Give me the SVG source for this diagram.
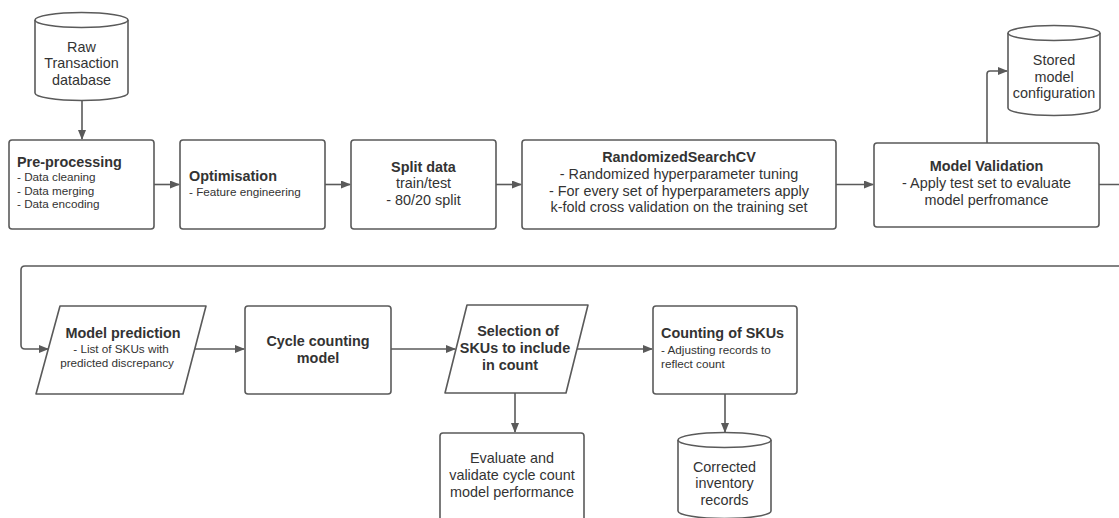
<svg xmlns="http://www.w3.org/2000/svg" width="1119" height="518" viewBox="0 0 1119 518">
<style>
.shape{fill:#fff;stroke:#5a5a5a;stroke-width:1.6;stroke-linejoin:round}
.con{fill:none;stroke:#5a5a5a;stroke-width:1.6;stroke-linejoin:round}
text{font-family:"Liberation Sans",Arial,sans-serif;fill:#333333}
.b{font-weight:bold;font-size:14.4px}
.r{font-size:14.4px}
.s{font-size:11.7px}
.m{text-anchor:middle}
</style>
<defs>
<marker id="ah" markerWidth="10" markerHeight="8" refX="9" refY="4" orient="auto" markerUnits="userSpaceOnUse">
<path d="M0,0 L10,4 L0,8 Z" fill="#5a5a5a"/>
</marker>
</defs>
<rect width="1119" height="518" fill="#fff"/>

<g id="connectors">
<path class="con" d="M82,100 V139" marker-end="url(#ah)"/>
<path class="con" d="M154,184.5 H179" marker-end="url(#ah)"/>
<path class="con" d="M325,184.5 H350" marker-end="url(#ah)"/>
<path class="con" d="M496,184.5 H521" marker-end="url(#ah)"/>
<path class="con" d="M836,184.5 H873" marker-end="url(#ah)"/>
<path class="con" d="M987,143 V74 Q987,71 990,71 H1007" marker-end="url(#ah)"/>
<path class="con" d="M1099,184.5 H1130 V266 H25 Q21,266 21,270 V345 Q21,349 25,349 H48" marker-end="url(#ah)"/>
<path class="con" d="M194,349 H244" marker-end="url(#ah)"/>
<path class="con" d="M391,349 H455" marker-end="url(#ah)"/>
<path class="con" d="M577,349 H652" marker-end="url(#ah)"/>
<path class="con" d="M515,393 V432" marker-end="url(#ah)"/>
<path class="con" d="M725,394 V432" marker-end="url(#ah)"/>
</g>

<g id="raw-db">
<path class="shape" d="M35,20 A46.5,7.5 0 0 1 128,20 V93 A46.5,7.5 0 0 1 35,93 Z"/>
<path class="con" d="M35,20 A46.5,7.5 0 0 0 128,20"/>
<text class="r m" x="81.5" y="52">Raw</text>
<text class="r m" x="81.5" y="68">Transaction</text>
<text class="r m" x="81.5" y="85">database</text>
</g>

<g id="preprocessing">
<rect class="shape" x="9" y="140" width="145" height="89" rx="3"/>
<text class="b" x="17" y="167">Pre-processing</text>
<text class="s" x="17" y="181">- Data cleaning</text>
<text class="s" x="17" y="195">- Data merging</text>
<text class="s" x="17" y="208">- Data encoding</text>
</g>

<g id="optimisation">
<rect class="shape" x="180" y="140" width="145" height="89" rx="3"/>
<text class="b" x="189" y="181">Optimisation</text>
<text class="s" x="189" y="196">- Feature engineering</text>
</g>

<g id="split">
<rect class="shape" x="351" y="140" width="145" height="89" rx="3"/>
<text class="b m" x="423.5" y="172">Split data</text>
<text class="r m" x="423.5" y="188">train/test</text>
<text class="r m" x="423.5" y="205">- 80/20 split</text>
</g>

<g id="rscv">
<rect class="shape" x="522" y="140" width="314" height="89" rx="3"/>
<text class="b m" x="679" y="162">RandomizedSearchCV</text>
<text class="r m" x="679" y="179">- Randomized hyperparameter tuning</text>
<text class="r m" x="679" y="196">- For every set of hyperparameters apply</text>
<text class="r m" x="679" y="212">k-fold cross validation on the training set</text>
</g>

<g id="validation">
<rect class="shape" x="874" y="143" width="225" height="84" rx="3"/>
<text class="b m" x="986.5" y="171">Model Validation</text>
<text class="r m" x="986.5" y="188">- Apply test set to evaluate</text>
<text class="r m" x="986.5" y="205">model perfromance</text>
</g>

<g id="stored-db">
<path class="shape" d="M1008,33 A46,7.5 0 0 1 1100,33 V108 A46,7.5 0 0 1 1008,108 Z"/>
<path class="con" d="M1008,33 A46,7.5 0 0 0 1100,33"/>
<text class="r m" x="1054" y="65">Stored</text>
<text class="r m" x="1054" y="82">model</text>
<text class="r m" x="1054" y="98">configuration</text>
</g>

<g id="prediction">
<path class="shape" d="M60,306 H206 L183,394 H36 Z"/>
<text class="b m" x="123" y="338">Model prediction</text>
<text class="s m" x="121" y="353">- List of SKUs with</text>
<text class="s m" x="117" y="367">predicted discrepancy</text>
</g>

<g id="cycle">
<rect class="shape" x="245" y="306" width="146" height="88" rx="3"/>
<text class="b m" x="318" y="346">Cycle counting</text>
<text class="b m" x="318" y="363">model</text>
</g>

<g id="selection">
<path class="shape" d="M467,305 H588 L566,393 H445 Z"/>
<text class="b m" x="518" y="336">Selection of</text>
<text class="b m" x="515" y="353">SKUs to include</text>
<text class="b m" x="510" y="370">in count</text>
</g>

<g id="counting">
<rect class="shape" x="653" y="306" width="144" height="88" rx="3"/>
<text class="b" x="661" y="338">Counting of SKUs</text>
<text class="s" x="661" y="354">- Adjusting records to</text>
<text class="s" x="661" y="368">reflect count</text>
</g>

<g id="evaluate">
<rect class="shape" x="440" y="433" width="144" height="100" rx="3"/>
<text class="r m" x="512" y="463">Evaluate and</text>
<text class="r m" x="512" y="480">validate cycle count</text>
<text class="r m" x="512" y="497">model performance</text>
</g>

<g id="corrected-db">
<path class="shape" d="M678,440 A46.5,7.5 0 0 1 771,440 V511 A46.5,7.5 0 0 1 678,511 Z"/>
<path class="con" d="M678,440 A46.5,7.5 0 0 0 771,440"/>
<text class="r m" x="724.5" y="472">Corrected</text>
<text class="r m" x="724.5" y="488">inventory</text>
<text class="r m" x="724.5" y="505">records</text>
</g>
</svg>
